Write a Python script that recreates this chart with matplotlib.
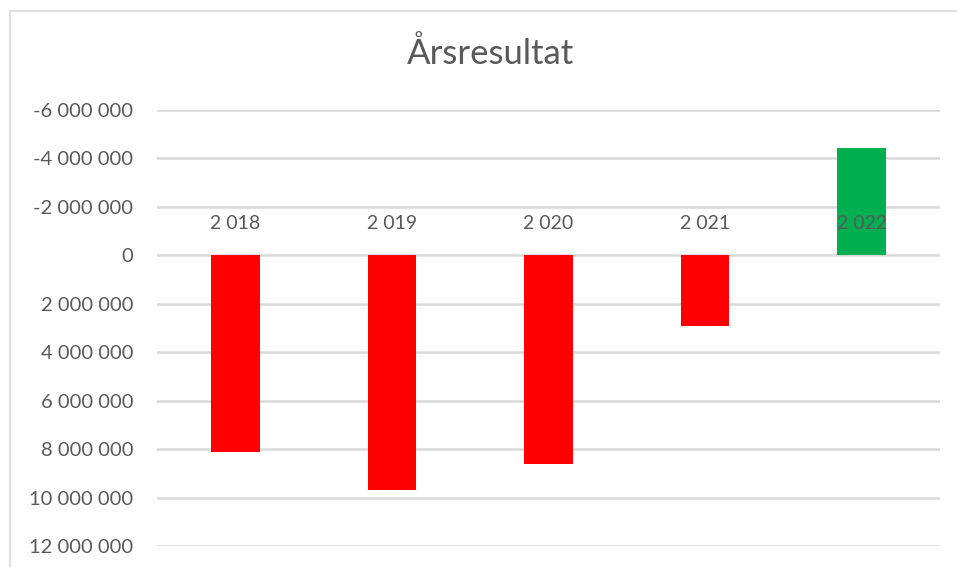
import matplotlib.pyplot as plt
from matplotlib.patches import Rectangle
from matplotlib.ticker import FuncFormatter

years = ["2 018", "2 019", "2 020", "2 021", "2 022"]
result = [8100000, 9700000, 8600000, 2900000, -4450000]
colors = ["#FF0000", "#FF0000", "#FF0000", "#FF0000", "#00B050"]
yticks = list(range(-6000000, 12000001, 2000000))

plt.rcParams['font.family'] = ['Lato', 'DejaVu Sans']
txt = "#595959"

fig = plt.figure(figsize=(9.57, 5.67), dpi=100)
fig.patches.append(Rectangle((10/957, -0.1), 1.2, 1 - 11/567 + 0.1,
                             transform=fig.transFigure, fill=False,
                             edgecolor="#d9d9d9", linewidth=1.2))
ax = fig.add_axes([157/957, 1 - 546/567, (940 - 157)/957, (546 - 110)/567])

x = range(len(years))
ax.bar(x, result, width=0.31, color=colors, zorder=2)
for i, y in enumerate(years):
    ax.annotate(y, (i, 0), xytext=(0, 23), textcoords="offset points",
                ha="center", va="center", color=txt, fontsize=14, zorder=3)

ax.set_xlim(-0.5, len(years) - 0.5)
ax.set_ylim(12000000, -6000000)
ax.set_yticks(yticks)
ax.yaxis.set_major_formatter(FuncFormatter(lambda v, p: f"{int(v):,}".replace(",", " ")))
ax.tick_params(axis="y", length=0, pad=17, labelsize=14.5, labelcolor=txt)
ax.set_xticks([])
ax.grid(axis="y", color="#d9d9d9", linewidth=1.8, zorder=0)
for s in ax.spines.values():
    s.set_visible(False)

fig.text(490/957, 1 - 54/567, "Årsresultat", ha="center", va="center",
         fontsize=25, color=txt)

fig.savefig("out.png", dpi=100)
